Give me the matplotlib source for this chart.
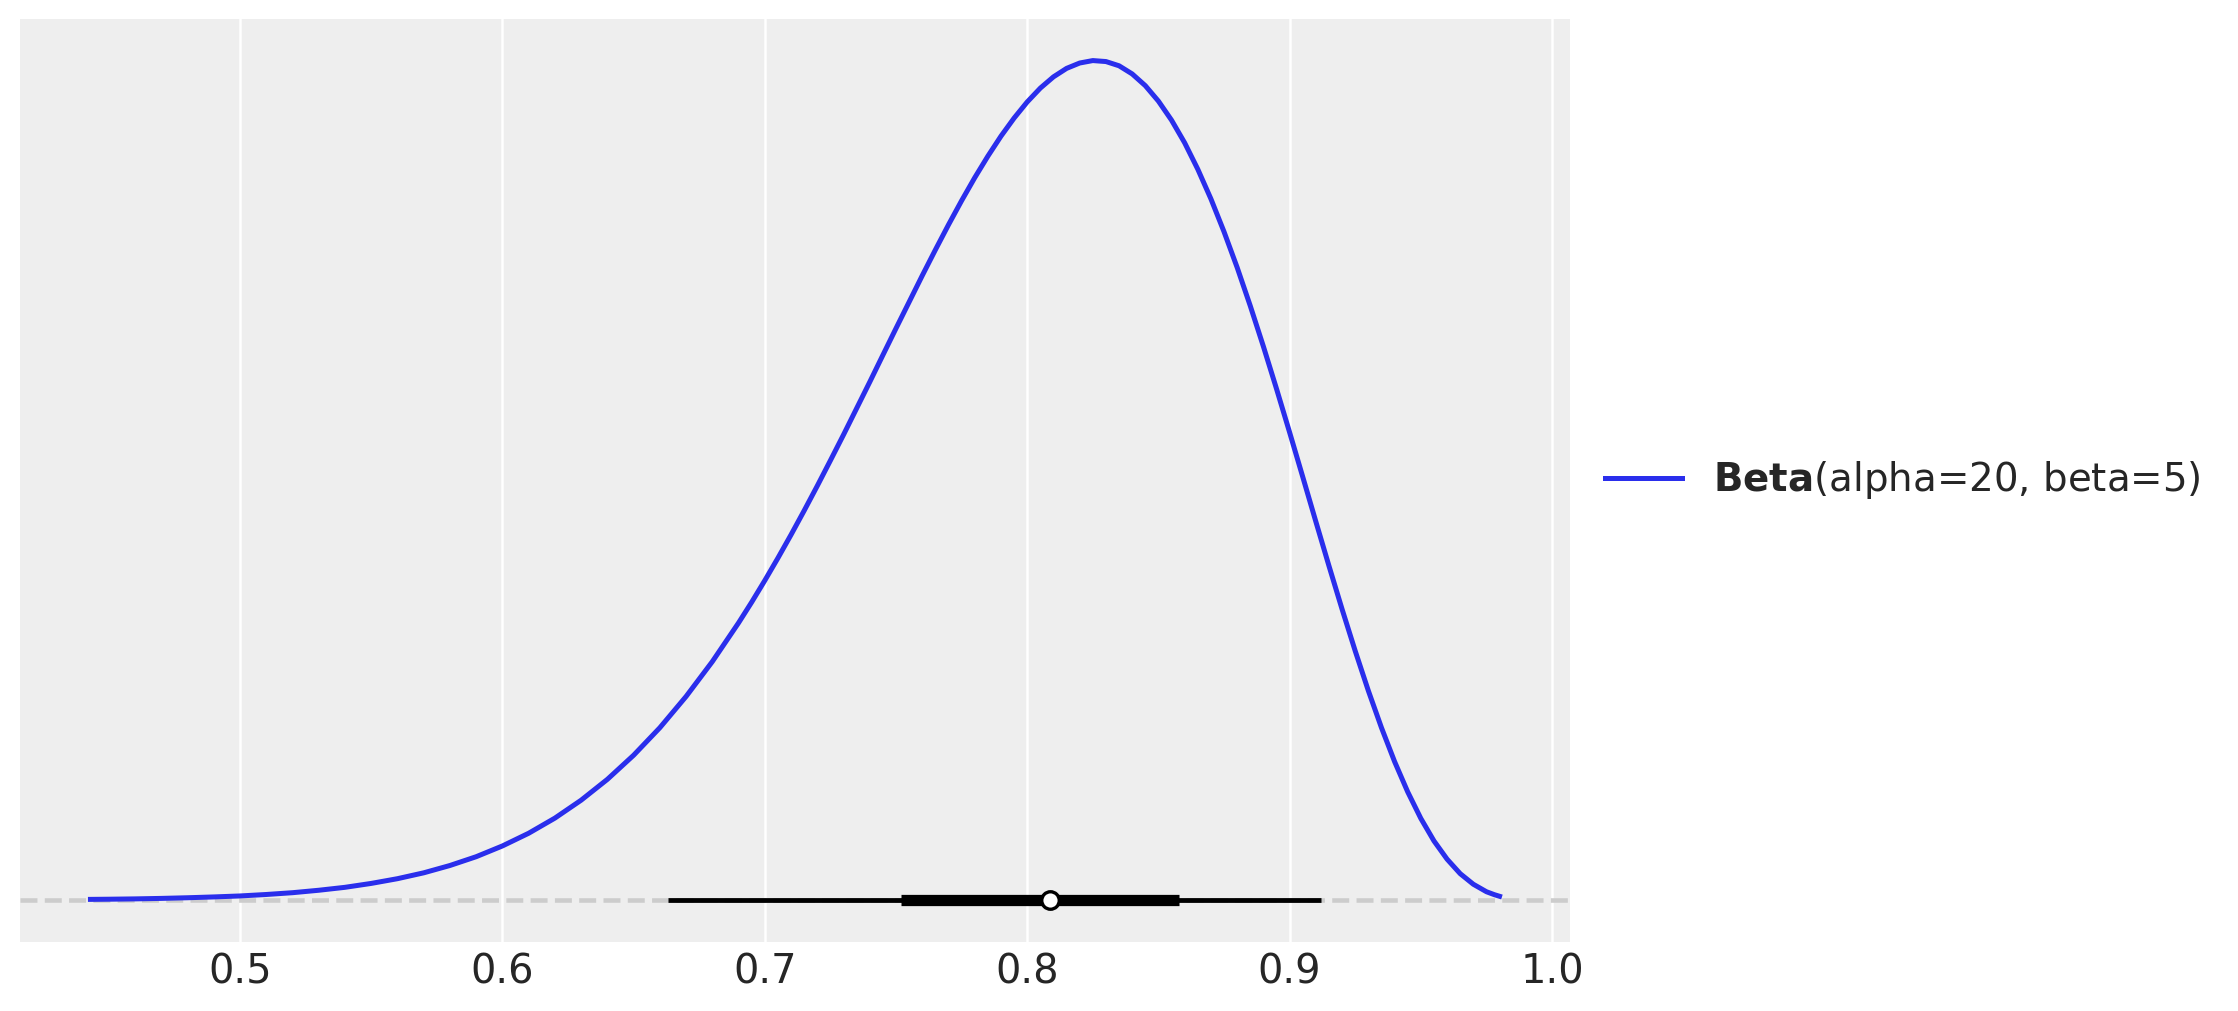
import numpy as np
import matplotlib
matplotlib.use("Agg")
import matplotlib.pyplot as plt

# density curve
x_pdf = [0.443, 0.45, 0.46, 0.47, 0.48, 0.49, 0.50, 0.51, 0.52, 0.53, 0.54, 0.55,
         0.56, 0.57, 0.58, 0.59, 0.60, 0.61, 0.62, 0.63, 0.64, 0.65, 0.66, 0.67,
         0.68, 0.69, 0.695, 0.70, 0.705, 0.71, 0.715, 0.72, 0.725, 0.73, 0.735,
         0.74, 0.745, 0.75, 0.755, 0.76, 0.765, 0.77, 0.775, 0.78, 0.785, 0.79,
         0.795, 0.80, 0.805, 0.81, 0.815, 0.82, 0.825, 0.83, 0.835, 0.84, 0.845,
         0.85, 0.855, 0.86, 0.865, 0.87, 0.875, 0.88, 0.885, 0.89, 0.895, 0.90,
         0.905, 0.91, 0.915, 0.92, 0.925, 0.93, 0.935, 0.94, 0.945, 0.95, 0.955,
         0.96, 0.965, 0.97, 0.975, 0.978, 0.98]
y_pdf = [0.004, 0.005, 0.007, 0.010, 0.014, 0.019, 0.025, 0.034, 0.045, 0.060, 0.078, 0.102,
         0.131, 0.167, 0.212, 0.266, 0.332, 0.410, 0.503, 0.613, 0.741, 0.889, 1.058, 1.250,
         1.464, 1.702, 1.829, 1.962, 2.100, 2.243, 2.391, 2.543, 2.699, 2.857, 3.019,
         3.181, 3.346, 3.510, 3.672, 3.834, 3.992, 4.146, 4.294, 4.435, 4.567, 4.690,
         4.801, 4.900, 4.985, 5.054, 5.106, 5.139, 5.154, 5.148, 5.122, 5.072, 5.000,
         4.905, 4.788, 4.649, 4.487, 4.305, 4.103, 3.884, 3.648, 3.399, 3.139, 2.871,
         2.598, 2.323, 2.051, 1.785, 1.529, 1.285, 1.058, 0.850, 0.664, 0.501, 0.363,
         0.251, 0.162, 0.097, 0.051, 0.033, 0.023]

# point-interval summary
interval_94 = [0.663, 0.912]
interval_50 = [0.752, 0.858]
median = 0.8085

label = r"$\bf{Beta}$(alpha=20, beta=5)"

plt.rcParams['font.family'] = ['DejaVu Sans']
fig, ax = plt.subplots(figsize=(7.46, 3.37), dpi=300)
fig.subplots_adjust(left=20/2238, right=1570/2238, top=1-18.6/1011, bottom=1-942/1011)

ax.set_facecolor("#eeeeee")
for s in ax.spines.values():
    s.set_visible(False)
ax.grid(True, axis="x", color="white", lw=0.6)
ax.set_axisbelow(True)

ax.axhline(0, color="#cccccc", ls="--", lw=1.1, zorder=1)
ax.plot(x_pdf, y_pdf, color="#2a2eec", lw=1.2, label=label, zorder=3,
        solid_joinstyle="round")

ax.plot(interval_94, [0, 0], color="k", lw=1.15, solid_capstyle="butt", zorder=4)
ax.plot(interval_50, [0, 0], color="k", lw=2.7, solid_capstyle="butt", zorder=4)
ax.plot([median], [0], "o", mfc="white", mec="k", ms=4.2, mew=0.8, zorder=5)

ax.set_yticks([])
ax.tick_params(axis="x", length=0, pad=2.5, labelsize=9.6, labelcolor="#262626")

ax.legend(loc="center left", bbox_to_anchor=(1, 0.5), frameon=False, fontsize=9.3,
          labelcolor="#262626")

fig.savefig("out.png", dpi=300)
